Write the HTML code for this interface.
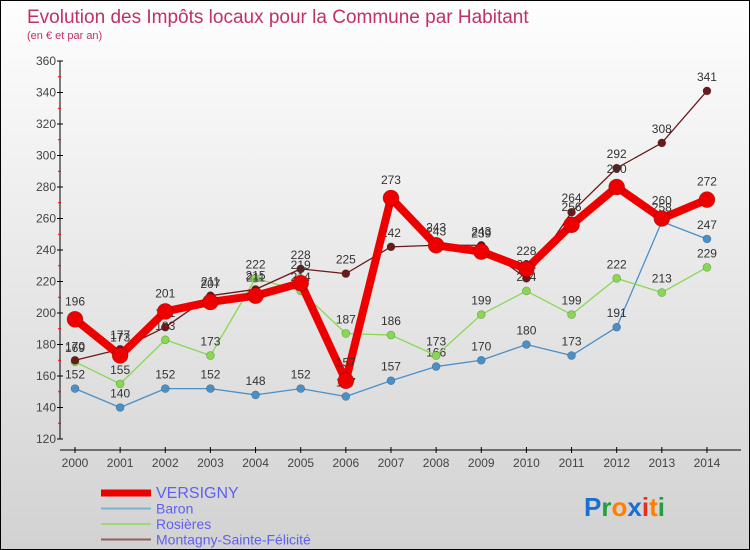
<!DOCTYPE html>
<html><head><meta charset="utf-8"><style>
body{margin:0}
#wrap{position:relative;width:748px;height:548px;border:1px solid #000;background:linear-gradient(#fefefe,#d2d2d2);overflow:hidden;font-family:"Liberation Sans",sans-serif}
svg text{font-family:"Liberation Sans",sans-serif}
</style></head><body>
<div id="wrap">
<svg id="c" width="748" height="548">
<text x="26" y="22" font-size="19" fill="#c0306a">Evolution des Impôts locaux pour la Commune par Habitant</text>
<text x="26" y="38" font-size="11" fill="#c0306a">(en € et par an)</text>
</svg>
</div>
<script>
const years=["2000","2001","2002","2003","2004","2005","2006","2007","2008","2009","2010","2011","2012","2013","2014"];
const versigny=[196,173,201,207,211,219,157,273,243,239,228,256,280,260,272];
const baron=[152,140,152,152,148,152,147,157,166,170,180,173,191,258,247];
const rosieres=[169,155,183,173,222,214,187,186,173,199,214,199,222,213,229];
const montagny=[170,177,191,211,215,228,225,242,243,243,222,264,292,308,341];
const yTicks=[120,140,160,180,200,220,240,260,280,300,320,340,360];
const svg=document.getElementById('c');
const NS='http://www.w3.org/2000/svg';
const X=i=>74+i*45.14;
const Y=v=>438-(v-120)*(378/240);
function mk(t,a,p){const e=document.createElementNS(NS,t);for(const k in a)e.setAttribute(k,a[k]);(p||svg).appendChild(e);return e;}
// axes
let ya=mk('line',{x1:59,y1:Y(360),x2:59,y2:Y(120),stroke:'#000'});


let xa=mk('line',{x1:59,y1:449,x2:740,y2:449,stroke:'#000'});


yTicks.forEach((v,i)=>{
 mk('line',{x1:56,y1:Y(v),x2:62,y2:Y(v),stroke:'#000'});
 if(i<yTicks.length-1) mk('line',{x1:57,y1:Y(v+10),x2:60,y2:Y(v+10),stroke:'#f00'});
 const t=mk('text',{x:55,y:Y(v)+4,'font-size':12,fill:'#444','text-anchor':'end'});t.textContent=v;
 
 
});
years.forEach((y,i)=>{
 mk('line',{x1:X(i),y1:446,x2:X(i),y2:452,stroke:'#000'});
 const t=mk('text',{x:X(i),y:466,'font-size':12,fill:'#444','text-anchor':'middle'});t.textContent=y;
 
 
});
const series=[
 {d:baron,c:'#4a90c8',w:1.3,r:4,name:'baron'},
 {d:rosieres,c:'#88d850',w:1.3,r:4,name:'rosieres'},
 {d:montagny,c:'#6a1a1a',w:1.3,r:4,name:'montagny'},
 {d:versigny,c:'#ee0000',w:8,r:8,name:'versigny'}
];
series.forEach(s=>{
 const g=mk('g',{});
 
 
 const p=mk('polyline',{points:s.d.map((v,i)=>X(i)+','+Y(v)).join(' '),fill:'none',stroke:s.c,'stroke-width':s.w,'stroke-linejoin':'round'},g);
 
 
 s.d.forEach((v,i)=>{
  const c=mk('circle',{cx:X(i),cy:Y(v),r:s.r,fill:s.c,stroke:'rgba(0,0,0,0.3)','stroke-width':0.6},g);
  
  
  const t=mk('text',{x:X(i),y:Y(v)-(s.r+6),'font-size':12,fill:'#333','text-anchor':'middle'},g);t.textContent=v;
  
  
 });
});
// legend
const leg=[['VERSIGNY','#ee0000',7,15],['Baron','#80b0d0',2,13],['Rosières','#a0d880',2,13],['Montagny-Sainte-Félicité','#906060',2,13]];
leg.forEach((l,i)=>{
 const y=492+i*15.5;
 const ln=mk('line',{x1:100,y1:y,x2:150,y2:y,stroke:l[1],'stroke-width':l[2]});
 
 
 const t=mk('text',{x:155,y:y+5,'font-size':l[3]+1,fill:'#6060f0'});t.textContent=l[0];
 
 
});
// logo
const lg=mk('text',{x:583,y:515,'font-size':26,'font-weight':'bold'});


[['P','#1a70d0'],['r','#20a040'],['o','#ff8000'],['x','#1a70d0'],['i','#e03020'],['t','#ff8000'],['i','#20a040']].forEach(a=>{const s=mk('tspan',{fill:a[1]},lg);s.textContent=a[0];});
</script>
</body></html>
